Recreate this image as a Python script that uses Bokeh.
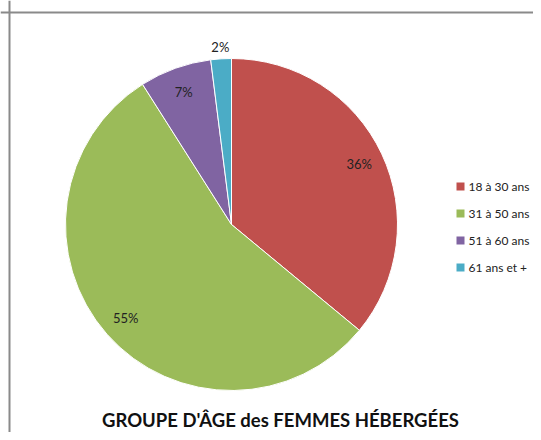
import math
from bokeh.plotting import figure
from bokeh.models import ColumnDataSource, Range1d, Span
from bokeh.core.properties import value
from bokeh.embed import file_html
from bokeh.resources import INLINE

categories = ["18 à 30 ans", "31 à 50 ans", "51 à 60 ans", "61 ans et +"]
percents = [36, 55, 7, 2]
colors = ["#C0504D", "#9BBB59", "#8064A2", "#4BACC6"]
title_text = "GROUPE D'ÂGE des FEMMES HÉBERGÉES"

W, H = 533, 432
cx, cy, R = 231, 208, 166
FONT = "Lato"

p = figure(width=W, height=H, x_range=Range1d(0, W), y_range=Range1d(0, H),
           output_backend="svg", toolbar_location=None,
           x_axis_location=None, y_axis_location=None, min_border=0)
p.grid.visible = False
p.outline_line_color = None
p.background_fill_color = "white"

total = sum(percents)
starts, ends, lx, ly, labels = [], [], [], [], []
a = math.pi / 2
for i, v in enumerate(percents):
    sweep = 2 * math.pi * v / total
    starts.append(a)
    ends.append(a - sweep)
    mid = a - sweep / 2
    rf = 1.07 if v < 5 and i == len(percents) - 1 else 0.85
    lx.append(cx + R * rf * math.cos(mid))
    ly.append(cy + R * rf * math.sin(mid))
    labels.append(f"{v}%")
    a -= sweep

src = ColumnDataSource(dict(start=starts, end=ends, color=colors, cat=categories,
                            lx=lx, ly=ly, lab=labels))
p.wedge(x=cx, y=cy, radius=R, start_angle="start", end_angle="end",
        direction="clock", fill_color="color", line_color="white", line_width=1,
        source=src)
p.text(x="lx", y="ly", text="lab", source=src, text_align="center",
       text_baseline="middle", text_font=value(FONT), text_font_size="13px",
       text_color="#222222")

# legend
leg_x = 460
leg_y0 = 246
step = 27
lgx = [leg_x] * len(categories)
lgy = [leg_y0 - i * step for i in range(len(categories))]
lsrc = ColumnDataSource(dict(x=lgx, y=lgy, tx=[leg_x + 8] * len(categories),
                             cat=categories, color=colors))
p.scatter(x="x", y="y", marker="square", size=8, fill_color="color",
          line_color=None, source=lsrc)
p.text(x="tx", y="y", text="cat", source=lsrc, text_align="left",
       text_baseline="middle", text_font=value(FONT), text_font_size="12px",
       text_color="#222222")

# title
p.text(x=[280], y=[2], text=[title_text], text_align="center",
       text_baseline="bottom", text_font=value(FONT), text_font_size="18.5px",
       text_font_style="bold", text_color="#111111")

# chart area border (left and top)
p.add_layout(Span(location=9, dimension="height", line_color="#8a8a8a", line_width=2))
p.add_layout(Span(location=420, dimension="width", line_color="#8a8a8a", line_width=2))

open("out.html", "w").write(file_html(p, INLINE))
